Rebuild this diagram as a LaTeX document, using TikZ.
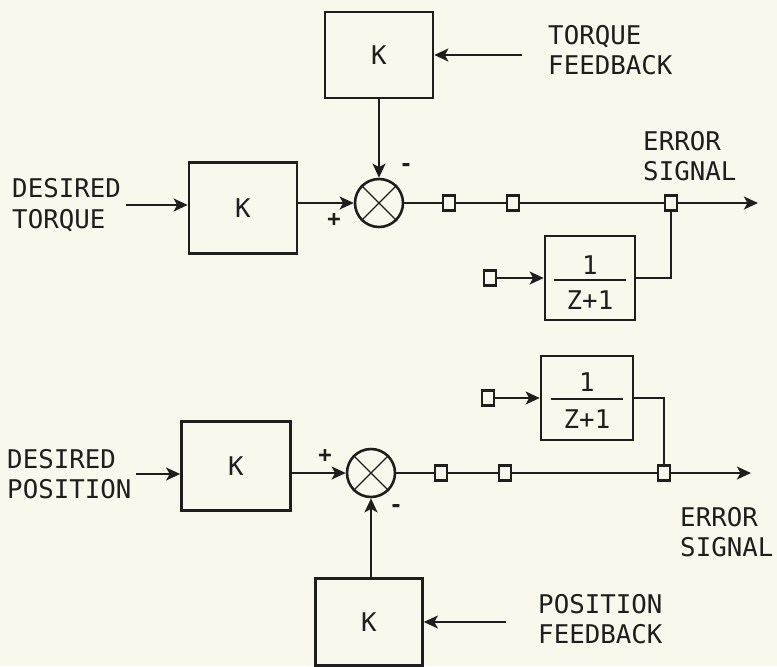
\documentclass[tikz,border=0pt]{standalone}
\usepackage{fontspec}
\setmonofont{DejaVu Sans Mono}
\usetikzlibrary{
	arrows.meta,
	calc,
	positioning
}
\definecolor{Paper}{RGB}{249,248,236}
\definecolor{Ink}{RGB}{30,30,30}

\begin{document}
\begin{tikzpicture}[x=0.3mm, y=-0.3mm,
		every node/.style={font=\ttfamily\fontsize{22}{26}\selectfont, text=Ink},
		blockbox/.style={draw=Ink, line width=2.2pt, fill=Paper, inner sep=0pt},
		sumjoint/.style={draw=Ink, line width=2.2pt, circle, minimum size=14.4mm, inner sep=0pt},
		tapbox/.style={draw=Ink, line width=1.8pt, fill=Paper, minimum width=3.6mm, minimum height=4.5mm, inner sep=0pt},
		sig/.style={draw=Ink, line width=1.8pt},
		arr/.style={sig, -{Stealth[length=12pt, width=11pt, inset=3pt]}},
		signtxt/.style={font=\ttfamily\bfseries\fontsize{19}{20}\selectfont},
		lbl/.style={align=left, anchor=west, inner sep=0pt}
	]
		\fill[Paper] (0,0) rectangle (777,666);
		\useasboundingbox (0,0) rectangle (777,666);
		
		% torque loop
		\node[blockbox, minimum width=32.4mm, minimum height=25.8mm] (kfbT) at (379,55) {K};
		\node[blockbox, minimum width=32.4mm, minimum height=27.3mm] (kinT) at (243,208) {K};
		\node[sumjoint] (sumT) at (379,203) {};
		\node[blockbox, minimum width=27mm, minimum height=25.2mm] (fbT) at (590,278) {};
		\node (fbTnum) at ($(fbT.center)+(0,-13)$) {1};
		\node (fbTden) at ($(fbT.center)+(0,22)$) {Z+1};
		\draw[sig] ($(fbT.center)+(-36,2)$) -- ($(fbT.center)+(36,2)$);
		
		\node[tapbox] (tapT1) at (449,203) {};
		\node[tapbox] (tapT2) at (513,203) {};
		\node[tapbox] (tapT3) at (671,203) {};
		\node[tapbox] (srcT) at (490,278) {};
		\coordinate (outT) at (758,203);
		
		\node[lbl] (desT) at (12,205) {DESIRED\\TORQUE};
		\node[lbl] (fbkT) at (548,50) {TORQUE\\FEEDBACK};
		\node[lbl] (errT) at (643,156) {ERROR\\SIGNAL};
		\node[signtxt] (minT) at (406,168) {-};
		\node[signtxt] (plusT) at (334,220) {+};
		
		\draw[sig, line width=1pt] (sumT.45) -- (sumT.225) (sumT.135) -- (sumT.315);
		\draw[arr, shorten <=4pt] (desT.east) -- (desT.east -| kinT.west);
		\draw[arr] (kinT.east |- sumT) -- (sumT.west);
		\draw[sig] (sumT.east) -- (tapT1) -- (tapT2) -- (tapT3);
		\draw[arr] (tapT3) -- (outT);
		\draw[sig] (fbT.east) -| (tapT3.south);
		\draw[arr] (srcT) -- (fbT.west);
		\draw[arr] ([xshift=-22pt]fbkT.west |- kfbT.east) -- (kfbT.east);
		\draw[arr] (kfbT.south) -- (sumT.north);
		
		% position loop
		\node[blockbox, minimum width=32.7mm, minimum height=26.7mm] (kinB) at (236,466) {K};
		\node[sumjoint] (sumB) at (371,473) {};
		\node[blockbox, minimum width=27.6mm, minimum height=25.2mm] (fbB) at (587,398) {};
		\node (fbBnum) at ($(fbB.center)+(0,-16)$) {1};
		\node (fbBden) at ($(fbB.center)+(0,21)$) {Z+1};
		\draw[sig] ($(fbB.center)+(-36,1)$) -- ($(fbB.center)+(36,1)$);
		\node[blockbox, minimum width=32.1mm, minimum height=26.1mm] (kfbB) at (369,622) {K};
		
		\node[tapbox] (tapB1) at (441,473) {};
		\node[tapbox] (tapB2) at (505,473) {};
		\node[tapbox] (tapB3) at (664,473) {};
		\node[tapbox] (srcB) at (488,398) {};
		\coordinate (outB) at (751,473);
		
		\node[lbl] (desB) at (7,474) {DESIRED\\POSITION};
		\node[lbl] (fbkB) at (538,619) {POSITION\\FEEDBACK};
		\node[lbl] (errB) at (680,532) {ERROR\\SIGNAL};
		\node[signtxt] (plusB) at (325,456) {+};
		\node[signtxt] (minB) at (396,508) {-};
		
		\draw[sig, line width=1pt] (sumB.45) -- (sumB.225) (sumB.135) -- (sumB.315);
		\draw[arr, shorten <=4pt] (desB.east) -- (desB.east -| kinB.west);
		\draw[arr] (kinB.east |- sumB) -- (sumB.west);
		\draw[sig] (sumB.east) -- (tapB1) -- (tapB2) -- (tapB3);
		\draw[arr] (tapB3) -- (outB);
		\draw[sig] (fbB.east) -| (tapB3.north);
		\draw[arr] (srcB) -- (fbB.west);
		\draw[arr] ([xshift=-27pt]fbkB.west |- kfbB.east) -- (kfbB.east);
		\draw[arr] (kfbB.north -| sumB) -- (sumB.south);
	\end{tikzpicture}
\end{document}
